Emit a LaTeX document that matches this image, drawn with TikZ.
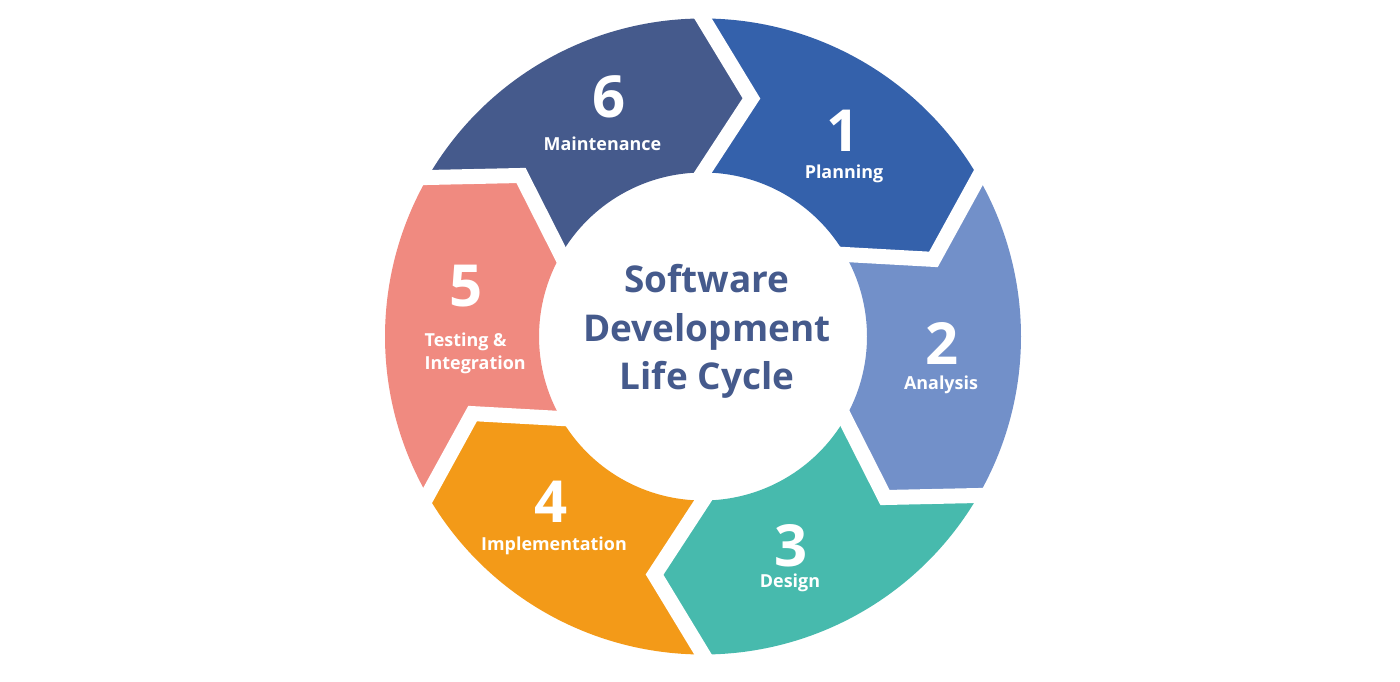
\documentclass[tikz,border=0pt]{standalone}
\usepackage{fontspec}
\setmainfont{Open Sans}
\usepackage{xcolor}
\definecolor{PlanBlue}{HTML}{3461AB}
\definecolor{AnalysisBlue}{HTML}{7290C9}
\definecolor{DesignTeal}{HTML}{47BAAD}
\definecolor{ImplOrange}{HTML}{F39A18}
\definecolor{TestSalmon}{HTML}{F08A80}
\definecolor{MaintSlate}{HTML}{455A8C}
\usepackage{tikz}
\usetikzlibrary{
  calc,
  positioning
}

\begin{document}
\begin{tikzpicture}[
    num/.style={
      text=white, inner sep=0pt, anchor=base,
      font=\fontsize{16.5}{18}\selectfont\bfseries
    },
    lbl/.style={
      text=white, inner sep=0pt, anchor=base,
      font=\fontsize{5.1}{6.7}\selectfont\bfseries
    },
    gap/.style={
      white, line width=1.5mm, line join=miter,
      shorten <=-2mm, shorten >=-2mm
    },
    title/.style={
      text=MaintSlate, inner sep=0pt, align=center,
      font=\fontsize{10.5}{13.9}\selectfont\bfseries
    }
  ]
    \useasboundingbox (0,0) rectangle (14,6.81);

    % ring of six arrow segments
    \begin{scope}[shift={(7.03,3.445)}]
      \foreach \s/\col in {90/PlanBlue, 30/AnalysisBlue, -30/DesignTeal,
                           -90/ImplOrange, -150/TestSalmon, 150/MaintSlate}
        \fill[\col] (\s:3.18) arc[start angle=\s, end angle=\s-60, radius=3.18]
          -- (\s-71.5:2.43) -- (\s-60:1.64)
          arc[start angle=\s-60, end angle=\s, radius=1.64]
          -- (\s-11.5:2.43) -- cycle;
      \foreach \s in {90,30,...,-240}
        \draw[gap] (\s:3.18) -- (\s-11.5:2.43) -- (\s:1.64);
    \end{scope}

    \node[num] (num1) at (8.43,5.29) {1};
    \node[lbl] (lbl1) at (8.44,5.02) {Planning};
    \node[num] (num2) at (9.42,3.16) {2};
    \node[lbl] (lbl2) at (9.41,2.91) {Analysis};
    \node[num] (num3) at (7.91,1.15) {3};
    \node[lbl] (lbl3) at (7.90,0.94) {Design};
    \node[num] (num4) at (5.51,1.59) {4};
    \node[lbl] (lbl4) at (5.54,1.31) {Implementation};
    \node[num] (num5) at (4.66,3.74) {5};
    \node[lbl, anchor=base west, align=left] (lbl5) at (4.24,3.11)
      {Testing \&\\Integration};
    \node[num] (num6) at (6.095,5.63) {6};
    \node[lbl] (lbl6) at (6.025,5.30) {Maintenance};

    \node[title, anchor=base] (sdlc) at (7.07,2.91)
      {Software\\Development\\Life Cycle};
  \end{tikzpicture}
\end{document}
